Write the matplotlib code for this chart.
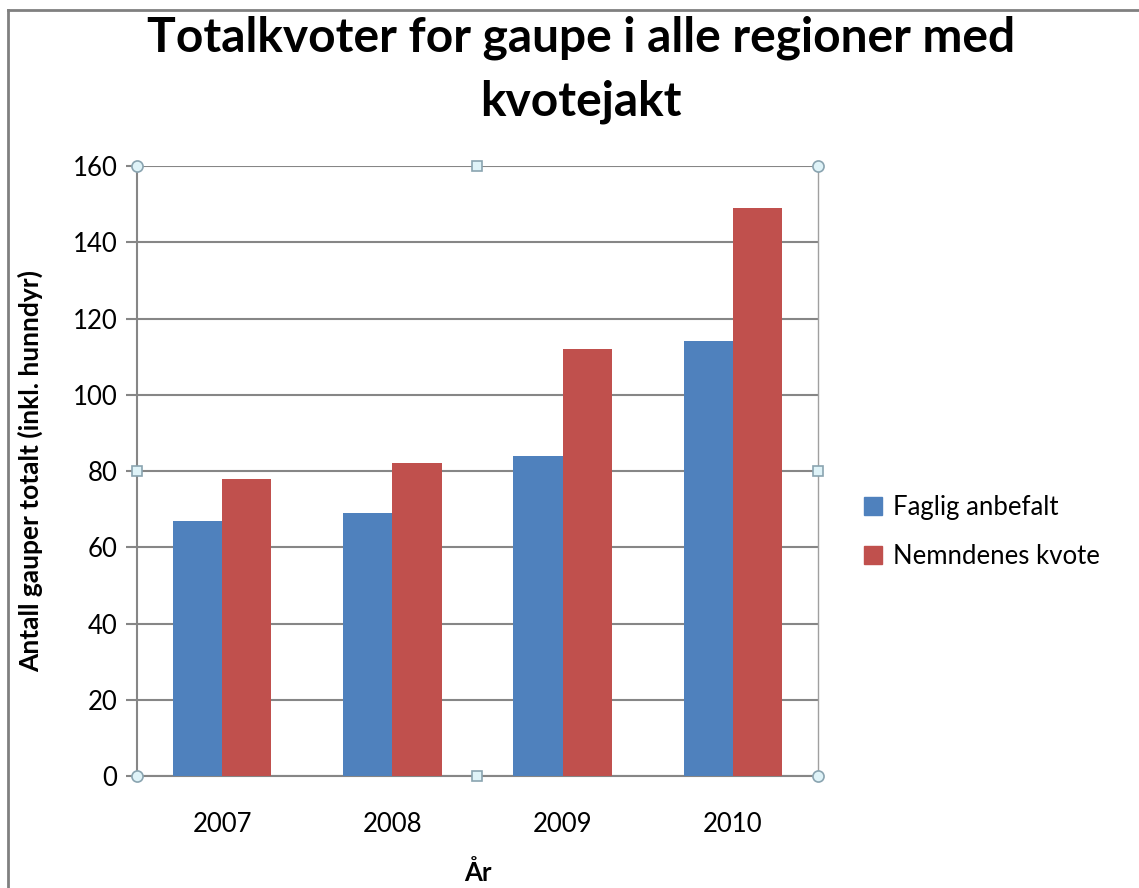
# Totalkvoter for gaupe - grouped bar chart
import numpy as np
import matplotlib.pyplot as plt
from matplotlib.lines import Line2D

years = ["2007", "2008", "2009", "2010"]
faglig = [67, 69, 84, 114]
nemnd = [78, 82, 112, 149]

plt.rcParams['font.family'] = ['Lato', 'DejaVu Sans']

fig = plt.figure(figsize=(11.39, 8.88), dpi=100)
ax = fig.add_axes([137/1139, 1 - 776/888, (818-137)/1139, 610/888])

x = np.arange(len(years))
w = 0.29
ax.bar(x - w/2, faglig, w, color="#4f81bd", zorder=3, label="Faglig anbefalt")
ax.bar(x + w/2, nemnd, w, color="#c0504d", zorder=3, label="Nemndenes kvote")

ax.set_xlim(-0.5, 3.5)
ax.set_ylim(0, 160)
ax.set_yticks(range(0, 161, 20))
ax.set_xticks(x)
ax.set_xticklabels(years)
ax.grid(axis="y", color="#868686", linewidth=1.5, zorder=0)
ax.tick_params(axis="y", length=8, width=1.5, color="#868686", labelsize=18.5, pad=6)
ax.tick_params(axis="x", length=0, labelsize=18.5, pad=26)
for s in ["top", "right"]:
    ax.spines[s].set_visible(False)
for s in ["left", "bottom"]:
    ax.spines[s].set_color("#868686")
    ax.spines[s].set_linewidth(1.5)
ax.plot([1, 1], [0, 1], transform=ax.transAxes, color="#a0a0a0", lw=1, clip_on=False)

# selection handles of the plot area
hx = [0, 1, 0, 1]
hy = [0, 0, 1, 1]
ax.plot(hx, hy, "o", transform=ax.transAxes, ms=8, mfc="#dff3f8", mec="#8aa4b0",
        mew=1.2, clip_on=False, zorder=5)
sx = [0.5, 0.5, 0, 1]
sy = [0, 1, 0.5, 0.5]
ax.plot(sx, sy, "s", transform=ax.transAxes, ms=7, mfc="#dff3f8", mec="#8aa4b0",
        mew=1.2, clip_on=False, zorder=5)

fig.text(30/1139, 1 - 471/888, "Antall gauper totalt (inkl. hunndyr)", fontsize=19,
         fontweight="bold", rotation=90, ha="center", va="center")
fig.text(478/1139, 1 - 873/888, "År", fontsize=18.5, fontweight="bold", ha="center", va="center")
fig.text(581/1139, 1 - 38/888, "Totalkvoter for gaupe i alle regioner med", fontsize=34.5,
         fontweight="bold", ha="center", va="center")
fig.text(581/1139, 1 - 102/888, "kvotejakt", fontsize=34.5, fontweight="bold",
         ha="center", va="center")

handles = [Line2D([], [], marker="s", ls="", ms=13, color="#4f81bd"),
           Line2D([], [], marker="s", ls="", ms=13, color="#c0504d")]
fig.legend(handles, ["Faglig anbefalt", "Nemndenes kvote"], loc="center left",
           bbox_to_anchor=(834/1139, 1 - 532/888), frameon=False, fontsize=18.5,
           labelspacing=0.95, handletextpad=0.2, handlelength=1.2)

# outer frame (left and top edge)
fig.add_artist(Line2D([8/1139, 8/1139], [0, 1 - 10/888], color="#808080", lw=2))
fig.add_artist(Line2D([8/1139, 1], [1 - 10/888, 1 - 10/888], color="#808080", lw=2))

fig.savefig("out.png", dpi=100)
